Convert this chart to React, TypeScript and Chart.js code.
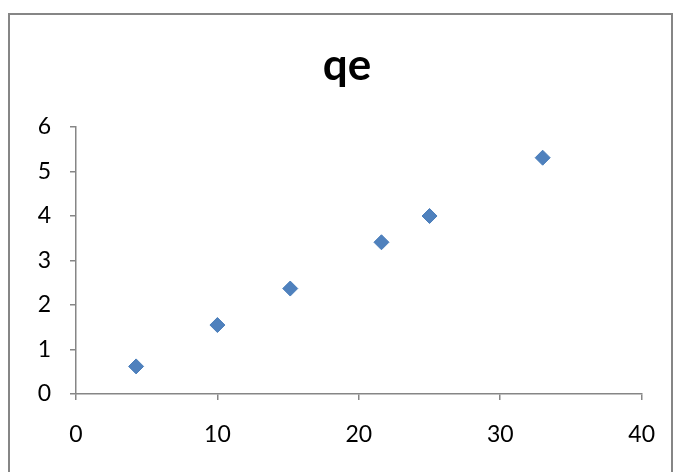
import React, { useEffect, useRef } from "react";
import { Chart, registerables } from "chart.js";

Chart.register(...registerables);

const titleText = "qe";
const xValues = [4.25, 10, 15.15, 21.6, 25, 33];
const yValues = [0.62, 1.55, 2.37, 3.41, 4.0, 5.31];
const xTicks = [0, 10, 20, 30, 40];
const yTicks = [0, 1, 2, 3, 4, 5, 6];

const FONT = "Lato, 'Open Sans', sans-serif";
const AXIS = "#868686";

const framePlugin = {
  id: "frame",
  beforeDraw(chart: any) {
    const ctx = chart.ctx;
    ctx.save();
    ctx.fillStyle = "#ffffff";
    ctx.fillRect(0, 0, chart.width, chart.height);
    ctx.strokeStyle = AXIS;
    ctx.lineWidth = 2;
    ctx.strokeRect(9, 14, 663, 500);
    ctx.fillStyle = "#000000";
    ctx.font = `bold 44px ${FONT}`;
    ctx.textAlign = "center";
    ctx.textBaseline = "alphabetic";
    ctx.fillText(titleText, 347, 79.5);
    ctx.restore();
  },
};

export default function App() {
  const ref = useRef<HTMLCanvasElement>(null);
  useEffect(() => {
    if (!ref.current) return;
    const chart = new Chart(ref.current, {
      type: "scatter",
      data: {
        datasets: [
          {
            label: titleText,
            data: xValues.map((x, i) => ({ x, y: yValues[i] })),
            pointStyle: "rectRot",
            pointRadius: 7.5,
            pointHoverRadius: 7.5,
            backgroundColor: "#4F81BD",
            borderColor: "#4A7EBB",
            borderWidth: 1,
          },
        ],
      },
      options: {
        responsive: false,
        animation: false,
        layout: { padding: { top: 127, right: 33, left: 0, bottom: 0 } },
        plugins: { legend: { display: false }, tooltip: { enabled: false }, title: { display: false } },
        scales: {
          x: {
            type: "linear",
            min: 0,
            max: 40,
            afterBuildTicks: (s: any) => { s.ticks = xTicks.map((v) => ({ value: v })); },
            afterFit: (s: any) => { s.height = 78; },
            grid: { display: true, drawOnChartArea: false, drawTicks: true, tickLength: 6, color: AXIS, lineWidth: 1.5 },
            border: { display: true, color: AXIS, width: 1.5 },
            ticks: { color: "#000", font: { family: FONT, size: 23 }, padding: 21, maxRotation: 0 },
          },
          y: {
            type: "linear",
            min: 0,
            max: 6,
            afterBuildTicks: (s: any) => { s.ticks = yTicks.map((v) => ({ value: v })); },
            afterFit: (s: any) => { s.width = 76; },
            grid: { display: true, drawOnChartArea: false, drawTicks: true, tickLength: 6, color: AXIS, lineWidth: 1.5 },
            border: { display: true, color: AXIS, width: 1.5 },
            ticks: { color: "#000", font: { family: FONT, size: 23 }, padding: 19 },
          },
        },
      },
      plugins: [framePlugin],
    });
    return () => chart.destroy();
  }, []);
  return (
    <div style={{ position: "fixed", left: 0, top: 0, width: 676, height: 472 }}>
      <canvas ref={ref} width={676} height={472} style={{ width: 676, height: 472, display: "block" }} />
    </div>
  );
}
